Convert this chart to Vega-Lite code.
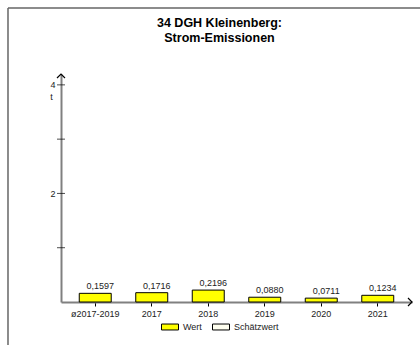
{
  "$schema": "https://vega.github.io/schema/vega-lite/v6.json",
  "width": 351,
  "height": 228,
  "autosize": {"type": "none"},
  "padding": {"left": 61, "top": 74, "right": 8, "bottom": 43},
  "config": {
    "locale": {"number": {"decimal": ",", "thousands": ".", "grouping": [3], "currency": ["", " €"]}},
    "font": "Liberation Sans",
    "view": {"stroke": null}
  },
  "title": {
    "text": ["34 DGH Kleinenberg:", "Strom-Emissionen"],
    "fontSize": 12.5,
    "font": "Liberation Sans",
    "fontWeight": "bold",
    "color": "#000000",
    "anchor": "middle",
    "frame": "group",
    "dx": -17,
    "offset": -37,
    "lineHeight": 15
  },
  "data": {
    "values": [
      {"Jahr": "ø2017-2019", "Wert": 0.1597, "Typ": "Wert"},
      {"Jahr": "2017", "Wert": 0.1716, "Typ": "Wert"},
      {"Jahr": "2018", "Wert": 0.2196, "Typ": "Wert"},
      {"Jahr": "2019", "Wert": 0.0880, "Typ": "Wert"},
      {"Jahr": "2020", "Wert": 0.0711, "Typ": "Wert"},
      {"Jahr": "2021", "Wert": 0.1234, "Typ": "Wert"}
    ]
  },
  "layer": [
    {
      "layer": [
        {
          "mark": {"type": "bar", "stroke": "#000000", "strokeWidth": 1},
          "encoding": {
            "x": {
              "field": "Jahr", "type": "nominal", "sort": null,
              "scale": {"paddingInner": 0.434, "paddingOuter": 0.323},
              "axis": {
                "title": null, "domainColor": "#808080", "domainWidth": 2,
                "tickColor": "#000000", "tickSize": 4, "labelFontSize": 9,
                "labelColor": "#222222", "labelPadding": 3, "labelAngle": 0
              }
            },
            "y": {
              "field": "Wert", "type": "quantitative",
              "scale": {"domain": [0, 4.2], "nice": false},
              "axis": {
                "title": "t", "values": [2, 4], "format": "d", "ticks": false, "grid": false,
                "domainColor": "#808080", "domainWidth": 2,
                "labelFontSize": 9, "labelColor": "#222222", "labelPadding": 6,
                "titleAngle": 0, "titleFontSize": 9, "titleFontWeight": "normal",
                "titleColor": "#222222", "titleX": -10, "titleY": 22,
                "titleAlign": "center", "titleBaseline": "middle"
              }
            },
            "fill": {
              "field": "Typ", "type": "nominal",
              "scale": {"domain": ["Wert", "Schätzwert"], "range": ["#ffff00", "#fffff0"]},
              "legend": {
                "title": null, "orient": "none", "legendX": 100, "legendY": 244,
                "direction": "horizontal",
                "symbolType": "M -1 -0.35 H 1 V 0.35 H -1 Z",
                "symbolSize": 289, "symbolStrokeColor": "#000000", "symbolStrokeWidth": 1,
                "labelFontSize": 9, "labelColor": "#222222", "columnPadding": 8
              }
            }
          }
        },
        {
          "mark": {"type": "text", "baseline": "bottom", "dy": -2, "dx": 5, "fontSize": 9, "color": "#222222"},
          "encoding": {
            "x": {"field": "Jahr", "type": "nominal", "sort": null},
            "y": {"field": "Wert", "type": "quantitative"},
            "text": {"field": "Wert", "type": "quantitative", "format": ".4f"}
          }
        }
      ]
    },
    {
      "layer": [
        {
          "data": {"values": [{"t": 1}, {"t": 2}, {"t": 3}, {"t": 4}]},
          "mark": {"type": "tick", "orient": "horizontal", "color": "#000000", "size": 8, "thickness": 1},
          "encoding": {
            "x": {"datum": 0, "type": "quantitative", "scale": {"domain": [0, 1], "nice": false, "zero": false}, "axis": null},
            "y": {"field": "t", "type": "quantitative"}
          }
        },
        {
          "data": {"values": [{}]},
          "mark": {"type": "point", "shape": "M -1 1 L 0 0 L 1 1", "filled": false, "stroke": "#000000", "strokeWidth": 1.2, "size": 64, "opacity": 1},
          "encoding": {
            "x": {"datum": 0, "type": "quantitative"},
            "y": {"datum": 4.2, "type": "quantitative"}
          }
        },
        {
          "data": {"values": [{}]},
          "mark": {"type": "point", "shape": "M -1 -1 L 0 0 L -1 1", "filled": false, "stroke": "#000000", "strokeWidth": 1.2, "size": 64, "opacity": 1},
          "encoding": {
            "x": {"datum": 1, "type": "quantitative"},
            "y": {"datum": 0, "type": "quantitative"}
          }
        },
        {
          "data": {"values": [{}]},
          "mark": {"type": "rule", "color": "#666666", "strokeWidth": 1.5},
          "encoding": {
            "x": {"datum": -0.151, "type": "quantitative"},
            "y": {"datum": 5.415, "type": "quantitative"},
            "y2": {"datum": -0.8}
          }
        },
        {
          "data": {"values": [{}]},
          "mark": {"type": "rule", "color": "#666666", "strokeWidth": 1.5},
          "encoding": {
            "x": {"datum": -0.151, "type": "quantitative"},
            "x2": {"datum": 1.03},
            "y": {"datum": 5.415, "type": "quantitative"}
          }
        }
      ]
    }
  ],
  "resolve": {"scale": {"x": "independent"}}
}
